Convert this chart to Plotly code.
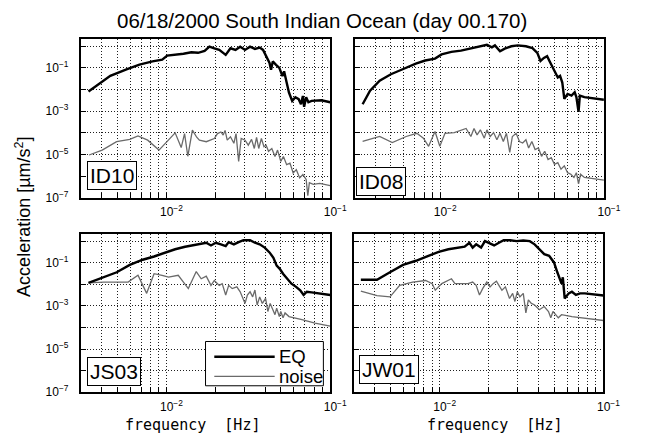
import plotly.graph_objects as go

# ---------------- data ----------------
panel_names = ["ID10", "ID08", "JS03", "JW01"]

id10_eq_f = [0.00334, 0.00395, 0.00454, 0.0057, 0.00684, 0.00822, 0.00942, 0.0101, 0.0113, 0.0127,
             0.0142, 0.0156, 0.0171, 0.0183, 0.0196, 0.021, 0.023, 0.0246, 0.0264, 0.0282,
             0.0302, 0.0324, 0.0347, 0.0371, 0.0389, 0.0406, 0.0426, 0.0435, 0.0446, 0.0467,
             0.0489, 0.0511, 0.0523, 0.0542, 0.056, 0.0586, 0.0613, 0.0642, 0.0663, 0.0681,
             0.0693, 0.0713, 0.0736, 0.077, 0.0883, 0.1]
id10_eq_a = [8.1e-3, 0.0194, 0.0433, 0.0865, 0.141, 0.2, 0.24, 0.37, 0.4, 0.45,
             0.53, 0.5, 0.61, 0.96, 0.81, 0.68, 0.4, 0.81, 0.68, 0.96,
             0.68, 0.96, 0.76, 0.87, 0.68, 0.34, 0.17, 0.083, 0.2, 0.14,
             0.1, 0.042, 0.07, 0.021, 0.0073, 0.003, 0.0044, 0.0036, 0.0021, 0.0051,
             0.0016, 0.0044, 0.0026, 0.003, 0.0032, 0.0026]
id10_noise_f = [0.00337, 0.00405, 0.00496, 0.00597, 0.0067, 0.00768, 0.009, 0.0103, 0.0113, 0.0123,
                0.0129, 0.0135, 0.0144, 0.0153, 0.0159, 0.0175, 0.0196, 0.0205, 0.0215, 0.0222,
                0.0228, 0.0235, 0.0246, 0.0258, 0.0266, 0.0276, 0.0286, 0.0302, 0.0316, 0.0331,
                0.0344, 0.0355, 0.0366, 0.038, 0.0394, 0.0406, 0.042, 0.044, 0.046, 0.0477,
                0.0499, 0.0518, 0.0542, 0.0568, 0.0594, 0.0621, 0.0651, 0.0681, 0.0713, 0.073,
                0.0746, 0.0788, 0.0863, 0.1]
id10_noise_a = [9.5e-6, 1.6e-5, 3.9e-5, 5e-5, 7.2e-5, 4.6e-5, 1.6e-5, 4.6e-5, 1e-4, 2.1e-5,
                9.3e-5, 8.3e-6, 1.35e-4, 6.3e-5, 4.6e-5, 3.9e-5, 5.5e-5, 9.3e-5, 1.1e-4, 7.9e-5,
                1.3e-4, 4.6e-5, 6.6e-5, 3.3e-5, 9.3e-5, 4.8e-6, 5.5e-5, 4.6e-5, 2.7e-5, 5e-5,
                1.9e-5, 6.2e-5, 1.9e-5, 5.5e-5, 2.3e-5, 2.7e-5, 1.4e-5, 1.9e-5, 8.1e-6, 1.6e-5,
                4.8e-6, 8.1e-6, 3.4e-6, 4e-6, 1.4e-6, 2e-6, 8.3e-7, 1.2e-6, 7e-7, 1.25e-7,
                5e-7, 4.2e-7, 4.6e-7, 3.7e-7]

id08_eq_f = [0.00336, 0.00373, 0.00427, 0.005, 0.0059, 0.0071, 0.0081, 0.0093, 0.0102, 0.0117,
             0.0134, 0.0154, 0.0176, 0.0193, 0.0207, 0.0216, 0.0232, 0.0248, 0.0272, 0.0298,
             0.0334, 0.0366, 0.0392, 0.041, 0.043, 0.045, 0.0465, 0.0482, 0.0504, 0.0523,
             0.054, 0.0557, 0.0573, 0.06, 0.0634, 0.0663, 0.0679, 0.07, 0.0713, 0.076, 0.1]
id08_eq_a = [0.0021, 0.0089, 0.026, 0.051, 0.087, 0.158, 0.22, 0.27, 0.42, 0.55,
             0.63, 0.78, 1.0, 1.17, 0.9, 1.1, 0.59, 0.78, 1.0, 1.1,
             1.0, 0.83, 0.5, 0.21, 0.29, 0.35, 0.21, 0.123, 0.073, 0.036,
             0.043, 0.021, 0.0037, 0.0063, 0.0053, 0.0075, 0.0045, 0.00093, 0.0053, 0.0045, 0.0034]
id08_noise_f = [0.00336, 0.00427, 0.0051, 0.0062, 0.0072, 0.0079, 0.0085, 0.0093, 0.00995, 0.0107,
                0.0122, 0.0134, 0.0144, 0.0154, 0.0161, 0.0168, 0.0176, 0.0186, 0.0193, 0.0202,
                0.0212, 0.0222, 0.0232, 0.0243, 0.0254, 0.0266, 0.0276, 0.0291, 0.0305, 0.0319,
                0.0334, 0.0347, 0.0363, 0.038, 0.0398, 0.0416, 0.0435, 0.0456, 0.0477, 0.0499,
                0.0523, 0.0547, 0.0573, 0.06, 0.0628, 0.0656, 0.0679, 0.07, 0.072, 0.076,
                0.0833, 0.1]
id08_noise_a = [4e-5, 6.8e-5, 3.6e-5, 6.8e-5, 9.6e-5, 5.7e-5, 2.4e-5, 1.15e-4, 2.4e-5, 9.6e-5,
                1.03e-4, 1.38e-4, 1.6e-4, 6.8e-5, 1.6e-4, 8.1e-5, 1.38e-4, 5.7e-5, 1.38e-4, 6.8e-5,
                1.03e-4, 4.8e-5, 9.6e-5, 4e-5, 9.6e-5, 1.26e-5, 6.8e-5, 9.6e-5, 4e-5, 3.4e-5,
                4.8e-5, 2e-5, 4e-5, 1.7e-5, 2e-5, 8.3e-6, 1.4e-5, 5.9e-6, 7.1e-6, 3.5e-6,
                4.2e-6, 2.1e-6, 3e-6, 1.45e-6, 1.23e-6, 8.7e-7, 1.45e-6, 4.4e-7, 1.23e-6, 8.7e-7,
                7.8e-7, 6.6e-7]

js03_eq_f = [0.00334, 0.00414, 0.00497, 0.00597, 0.00716, 0.0084, 0.00986, 0.0113, 0.013, 0.0142,
             0.0159, 0.0175, 0.0187, 0.02, 0.0215, 0.023, 0.024, 0.0258, 0.0276, 0.0295,
             0.0324, 0.0347, 0.0371, 0.0398, 0.0426, 0.045, 0.0471, 0.0492, 0.0515, 0.0547,
             0.058, 0.0619, 0.0656, 0.0688, 0.072, 0.077, 0.1]
js03_eq_a = [0.0115, 0.0214, 0.036, 0.079, 0.137, 0.194, 0.295, 0.42, 0.55, 0.63,
             0.71, 0.84, 0.63, 0.84, 0.71, 0.59, 0.9, 0.71, 0.9, 1.1,
             1.1, 0.84, 0.71, 0.5, 0.3, 0.17, 0.073, 0.052, 0.031, 0.018,
             0.0107, 0.0076, 0.0053, 0.0032, 0.0045, 0.0042, 0.0032]
js03_noise_f = [0.00334, 0.00414, 0.00583, 0.0067, 0.00757, 0.0084, 0.0094, 0.0103, 0.0118, 0.0136,
                0.0152, 0.0163, 0.0175, 0.0187, 0.0196, 0.021, 0.0219, 0.023, 0.024, 0.0252,
                0.0269, 0.0282, 0.0302, 0.0312, 0.0324, 0.0336, 0.0347, 0.0358, 0.0371, 0.0385,
                0.0403, 0.0416, 0.043, 0.0446, 0.046, 0.0471, 0.0489, 0.0499, 0.0515, 0.053,
                0.056, 0.0672, 0.0807, 0.1]
js03_noise_a = [0.0115, 0.0127, 0.0127, 0.026, 0.0038, 0.031, 0.026, 0.0214, 0.026, 0.0063,
                0.039, 0.018, 0.024, 0.0089, 0.015, 0.0089, 0.0107, 0.0032, 0.0089, 0.0063,
                0.0076, 0.0045, 0.0013, 0.0032, 0.0045, 0.0026, 0.0054, 0.0011, 0.0026, 0.0013,
                0.0022, 5.5e-4, 0.0013, 6.6e-4, 3.9e-4, 7.9e-4, 3.2e-4, 5.5e-4, 2.8e-4, 4.7e-4,
                3.2e-4, 2.3e-4, 1.6e-4, 1.15e-4]

jw01_eq_f = [0.0033, 0.00414, 0.00497, 0.00597, 0.00716, 0.0086, 0.00986, 0.0113, 0.013, 0.0142,
             0.0152, 0.0159, 0.0167, 0.0179, 0.0189, 0.02, 0.0215, 0.023, 0.0246, 0.0269,
             0.0295, 0.0324, 0.0355, 0.038, 0.0406, 0.0435, 0.0466, 0.0499, 0.0523, 0.054,
             0.0555, 0.0565, 0.058, 0.0614, 0.0642, 0.0679, 0.072, 0.077, 0.1]
jw01_eq_a = [0.0163, 0.0163, 0.036, 0.079, 0.123, 0.21, 0.32, 0.42, 0.5, 0.55,
             0.84, 0.5, 0.71, 0.5, 1.0, 0.79, 0.63, 0.84, 1.1, 1.1,
             1.0, 1.07, 1.0, 0.71, 0.42, 0.25, 0.21, 0.103, 0.036, 0.018,
             0.0107, 0.021, 0.0022, 0.0038, 0.0045, 0.0032, 0.0038, 0.0038, 0.003]
jw01_noise_f = [0.0033, 0.00414, 0.00497, 0.0057, 0.00684, 0.0082, 0.009, 0.0094, 0.0103, 0.0113,
                0.0118, 0.0124, 0.0136, 0.0149, 0.0159, 0.0167, 0.0175, 0.0183, 0.0194, 0.0203,
                0.0212, 0.0222, 0.0233, 0.024, 0.0252, 0.0267, 0.0279, 0.0288, 0.0298, 0.0309,
                0.0324, 0.0336, 0.0348, 0.0363, 0.038, 0.0406, 0.0435, 0.0462, 0.0477, 0.0492,
                0.0511, 0.053, 0.0555, 0.0642, 0.1]
jw01_noise_a = [0.0048, 0.003, 0.0026, 0.0089, 0.0127, 0.015, 0.0107, 0.0053, 0.0107, 0.015,
                0.018, 0.0107, 0.0107, 0.0107, 0.0127, 0.0089, 0.0032, 0.0063, 0.0127, 0.0076,
                0.0107, 0.0138, 0.0076, 0.0053, 0.0076, 0.0022, 0.0038, 0.0016, 0.0045, 0.0026,
                0.0038, 4.7e-4, 0.0019, 0.0013, 0.0011, 6.6e-4, 9.3e-4, 5.5e-4, 2.8e-4, 5.5e-4,
                3.9e-4, 2.8e-4, 3.9e-4, 3.2e-4, 2.1e-4]

x_tick_vals = [0.01, 0.1]
x_tick_text = ["10<sup>−2</sup>", "10<sup>−1</sup>"]
x_minor_vals = [0.003, 0.004, 0.005, 0.006, 0.007, 0.008, 0.009,
                0.02, 0.03, 0.04, 0.05, 0.06, 0.07, 0.08, 0.09]
y_tick_vals = [1e-7, 1e-5, 1e-3, 1e-1]
y_tick_text = ["10<sup>−7</sup>", "10<sup>−5</sup>", "10<sup>−3</sup>", "10<sup>−1</sup>"]
y_minor_vals = [1e-6, 1e-4, 1e-2, 1e0]

legend_labels = ["EQ", "noise"]
title_text = "06/18/2000 South Indian Ocean (day 00.170)"
y_title = "Acceleration [µm/s<sup>2</sup>]"
x_title = "frequency  [Hz]"

# ---------------- figure ----------------
W, H = 655, 441
FONT = "Liberation Sans, Arial, Helvetica, sans-serif"
EQ_COLOR, NOISE_COLOR = "black", "#6a6a6a"
EQ_WIDTH, NOISE_WIDTH = 2.4, 1.3
GRID = dict(showgrid=True, gridcolor="#1e1e1e", gridwidth=1, griddash="1px,2px")

# panel boxes in pixels: (left, right, top, bottom)
boxes = [(83, 339, 40, 201), (364, 620, 40, 201), (83, 339, 238, 398.5), (363.5, 619.5, 238, 398.5)]

series = [
    (id10_eq_f, id10_eq_a, id10_noise_f, id10_noise_a),
    (id08_eq_f, id08_eq_a, id08_noise_f, id08_noise_a),
    (js03_eq_f, js03_eq_a, js03_noise_f, js03_noise_a),
    (jw01_eq_f, jw01_eq_a, jw01_noise_f, jw01_noise_a),
]

fig = go.Figure()
layout = dict(
    width=W, height=H, autosize=False,
    margin=dict(l=0, r=0, t=0, b=0),
    paper_bgcolor="white", plot_bgcolor="white",
    font=dict(family=FONT, size=12, color="black"),
    showlegend=False,
)

for i, (ef, ea, nf, na) in enumerate(series):
    k = "" if i == 0 else str(i + 1)
    xa, ya = "x" + k, "y" + k
    fig.add_trace(go.Scatter(x=nf, y=na, mode="lines", name=legend_labels[1],
                             line=dict(color=NOISE_COLOR, width=NOISE_WIDTH),
                             xaxis=xa, yaxis=ya))
    fig.add_trace(go.Scatter(x=ef, y=ea, mode="lines", name=legend_labels[0],
                             line=dict(color=EQ_COLOR, width=EQ_WIDTH),
                             xaxis=xa, yaxis=ya))
    l, r, t, b = boxes[i]
    common = dict(type="log", showline=True, linecolor="black", linewidth=2, mirror=True,
                  ticks="inside", ticklen=5, tickcolor="black", tickwidth=1,
                  zeroline=False, tickfont=dict(family=FONT, size=12), **GRID)
    minor = dict(tickmode="array", ticks="inside", ticklen=5, tickcolor="black", **GRID)
    layout["xaxis" + k] = dict(common, domain=[l / W, r / W], anchor=ya,
                               range=[-2.5229, -1.0], tickmode="array",
                               tickvals=x_tick_vals, ticktext=x_tick_text,
                               ticklabelshift=5, ticklabelstandoff=2,
                               minor=dict(minor, tickvals=x_minor_vals))
    layout["yaxis" + k] = dict(common, domain=[1 - b / H, 1 - t / H], anchor=xa,
                               range=[-7, 0.32], tickmode="array",
                               tickvals=y_tick_vals, ticktext=y_tick_text,
                               showticklabels=(i in (0, 2)), ticklabelstandoff=8,
                               minor=dict(minor, tickvals=y_minor_vals))

fig.update_layout(**layout)

annotations = [
    dict(text=title_text, x=331 / W, y=1 - 21 / H, xref="paper", yref="paper",
         showarrow=False, font=dict(family=FONT, size=20.5), xanchor="center", yanchor="middle"),
    dict(text=y_title, x=24 / W, y=1 - 220 / H, xref="paper", yref="paper", textangle=-90,
         showarrow=False, font=dict(family=FONT, size=18), xanchor="center", yanchor="middle"),
    dict(text=x_title, x=198 / W, y=1 - 432 / H, xref="paper", yref="paper",
         showarrow=False, font=dict(family="DejaVu Sans Mono, monospace", size=15),
         xanchor="center", yanchor="middle"),
    dict(text=x_title, x=508 / W, y=1 - 432 / H, xref="paper", yref="paper",
         showarrow=False, font=dict(family="DejaVu Sans Mono, monospace", size=15),
         xanchor="center", yanchor="middle"),
]
label_pos = [(89, 193), (365, 199), (89, 392), (369, 390)]
for name, (lx, ly) in zip(panel_names, label_pos):
    annotations.append(dict(text=name, x=lx / W, y=1 - ly / H, xref="paper", yref="paper",
                            showarrow=False, xanchor="left", yanchor="bottom",
                            font=dict(family=FONT, size=21), bgcolor="white",
                            bordercolor="black", borderwidth=1, borderpad=2))

# legend box drawn inside the JS03 panel
shapes = [
    dict(type="rect", xref="paper", yref="paper", x0=211 / W, x1=332 / W,
         y0=1 - 392 / H, y1=1 - 347 / H, line=dict(color="black", width=1), fillcolor="white"),
    dict(type="line", xref="paper", yref="paper", x0=220 / W, x1=282 / W,
         y0=1 - 362.5 / H, y1=1 - 362.5 / H, line=dict(color=EQ_COLOR, width=EQ_WIDTH)),
    dict(type="line", xref="paper", yref="paper", x0=220 / W, x1=282 / W,
         y0=1 - 382.5 / H, y1=1 - 382.5 / H, line=dict(color=NOISE_COLOR, width=NOISE_WIDTH)),
]
for lbl, yy in zip(legend_labels, [362.5, 382.5]):
    annotations.append(dict(text=lbl, x=284 / W, y=1 - yy / H, xref="paper", yref="paper",
                            showarrow=False, xanchor="left", yanchor="middle",
                            font=dict(family=FONT, size=18.5)))

fig.update_layout(annotations=annotations, shapes=shapes)

fig.write_html("out.html")
